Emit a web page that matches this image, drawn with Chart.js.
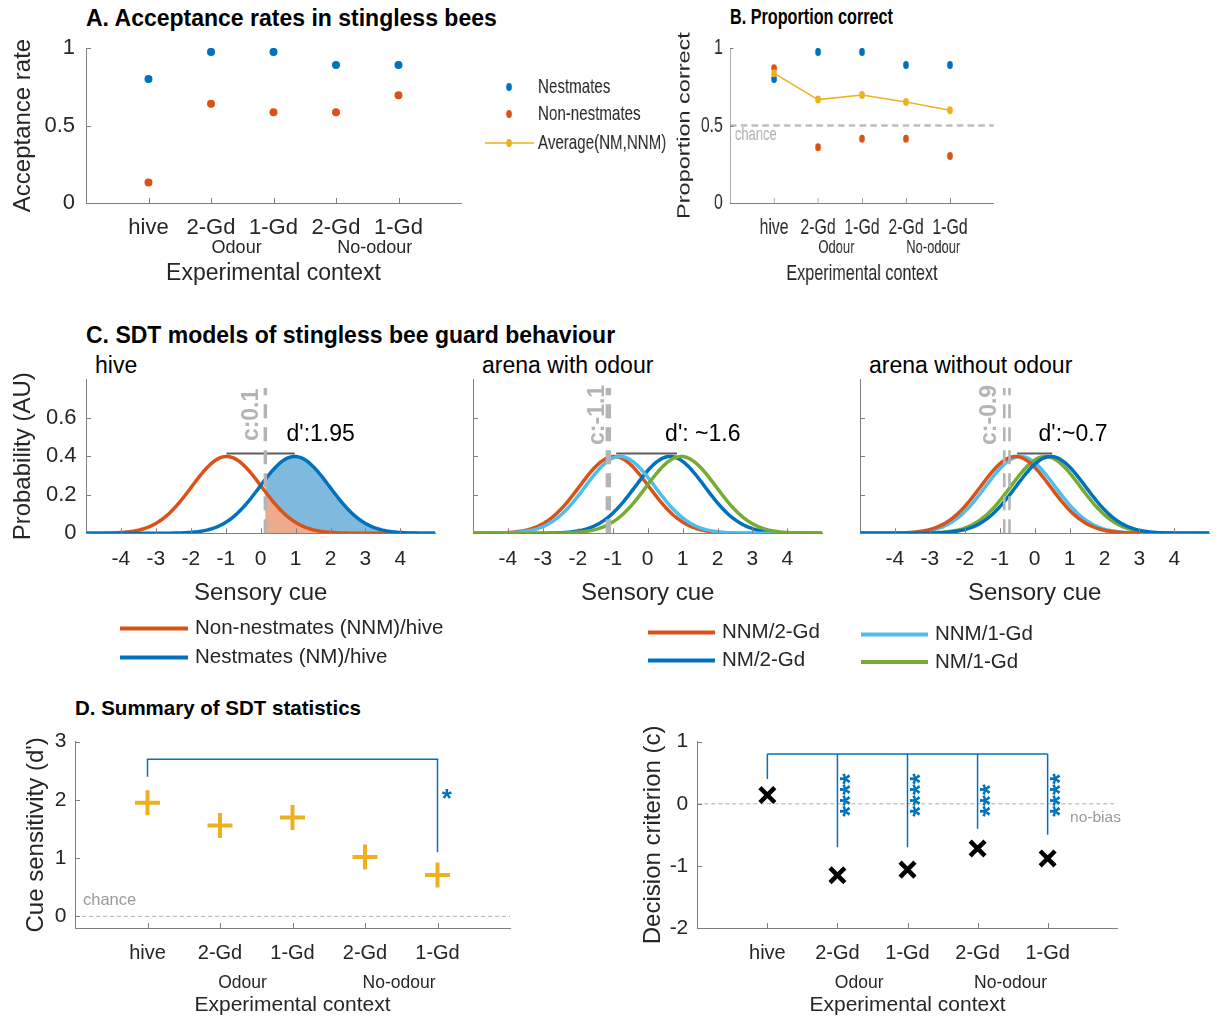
<!DOCTYPE html>
<html>
<head>
<meta charset="utf-8">
<script src="https://cdn.jsdelivr.net/npm/chart.js@4.4.1/dist/chart.umd.min.js"></script>
<style>
  body { margin: 0; background: #fff; width: 1221px; height: 1018px; position: relative; overflow: hidden;
         font-family: "Liberation Sans", Arial, sans-serif; color: #000; }
  .panel { position: absolute; transform-origin: 0 0; }
  .label { position: absolute; white-space: nowrap; line-height: 1; transform-origin: 0 0; }
</style>
</head>
<body>
<script>
// ---- data ----
const contexts = ['hive', '2-Gd', '1-Gd', '2-Gd', '1-Gd'];
const contextGroups = ['Odour', 'No-odour'];

// A. acceptance rates
const nestmateAccept = [0.80, 0.975, 0.975, 0.89, 0.89];
const nonNestmateAccept = [0.133, 0.64, 0.585, 0.585, 0.695];

// B. proportion correct
const nestmateCorrect = [0.80, 0.975, 0.975, 0.89, 0.89];
const nonNestmateCorrect = [0.869, 0.36, 0.415, 0.415, 0.303];
const averageCorrect = [0.837, 0.667, 0.696, 0.652, 0.598];

// C. SDT models: means of unit-variance normal curves, criteria, d' bars
const cueTicks = [-4, -3, -2, -1, 0, 1, 2, 3, 4];
const probTicks = [0, 0.2, 0.4, 0.6];
const hiveMeans = [-0.975, 0.975];                 // NNM, NM
const hiveCriteria = [0.135];
const odourMeans = [-0.96, 0.64, -0.79, 0.96];     // NNM/2-Gd, NM/2-Gd, NNM/1-Gd, NM/1-Gd
const odourCriteria = [-1.16, -1.09];
const noOdourMeans = [-0.55, 0.46, -0.41, 0.31];
const noOdourCriteria = [-0.87, -0.72];
const dBars = [[-0.975, 0.975], [-0.9, 0.84], [-0.5, 0.5]];
const dBarHeight = 0.415;
const criterionTop = 0.755;
const dLabels = ["d':1.95", "d': ~1.6", "d':~0.7"];
const cLabels = ['c:0.1', 'c:-1.1', 'c:-0.9'];

// D. summary statistics
const dPrime = [1.95, 1.56, 1.70, 1.02, 0.71];
const criterion = [0.14, -1.15, -1.06, -0.72, -0.88];
const dBracketTop = 2.7;
const dBracketEnds = [2.4, 1.1];                   // hive vs no-odour 1-Gd
const cBracketTop = 0.8;
const cBracketEnds = [0.4, -0.7, -0.7, -0.4, -0.5];
const cStars = ['', '****', '****', '***', '****'];

// ---- style ----
const FONT = '"Liberation Sans", Arial, sans-serif';
const TEXT = '#262626';
const AXIS = '#808080';
const BLUE = '#0072BD', ORANGE = '#D95319', YELLOW = '#EDB120', LIGHT = '#4DBEEE', GREEN = '#77AC30';
const GREY = '#b4b4b4';
Chart.defaults.font.family = FONT;
Chart.defaults.color = TEXT;

const pts = vals => vals.map((v, i) => ({x: i + 1, y: v}));
const seg = (x0, y0, x1, y1) => [{x: x0, y: y0}, {x: x1, y: y1}];
const cueGrid = Array.from({length: 201}, (_, i) => -5 + i * 0.05);
const pdf = (x, m) => Math.exp(-0.5 * (x - m) * (x - m)) / Math.sqrt(2 * Math.PI);
const curve = m => cueGrid.map(v => ({x: v, y: pdf(v, m)}));
const tail = (m, c) => [{x: c, y: pdf(c, m)}].concat(cueGrid.filter(v => v > c).map(v => ({x: v, y: pdf(v, m)})));

function addLabel(text, x, yc, size, bold, sx) {
  const d = document.createElement('div');
  d.className = 'label';
  d.textContent = text;
  d.style.left = x + 'px';
  d.style.top = (yc - size * 0.5) + 'px';
  d.style.fontSize = size + 'px';
  if (bold) d.style.fontWeight = 'bold';
  if (sx) d.style.transform = 'scaleX(' + sx + ')';
  document.body.appendChild(d);
}

// text notes, legend and MATLAB-like inward ticks
function notes(texts, legend, legendSize) {
  return {
    id: 'notes',
    afterDraw(chart) {
      const {ctx, chartArea: a, scales: {x, y}} = chart;
      ctx.save();
      ctx.strokeStyle = AXIS;
      ctx.lineWidth = 1;
      ctx.beginPath();
      x.ticks.forEach(t => {
        const px = Math.round(x.getPixelForValue(t.value)) + 0.5;
        ctx.moveTo(px, a.bottom); ctx.lineTo(px, a.bottom - 5);
      });
      y.ticks.forEach(t => {
        const py = Math.round(y.getPixelForValue(t.value)) + 0.5;
        ctx.moveTo(a.left, py); ctx.lineTo(a.left + 5, py);
      });
      ctx.stroke();

      texts.forEach(n => {
        ctx.save();
        ctx.font = (n.bold ? 'bold ' : '') + n.size + 'px ' + FONT;
        ctx.fillStyle = n.color || TEXT;
        ctx.textAlign = n.align || 'left';
        ctx.textBaseline = 'middle';
        const px = x.getPixelForValue(n.x);
        const py = n.below != null ? a.bottom + n.below : y.getPixelForValue(n.y);
        ctx.translate(px, py);
        if (n.rotate) ctx.rotate(n.rotate);
        ctx.fillText(n.text, 0, 0);
        ctx.restore();
      });

      legend.forEach(l => {
        const ds = chart.data.datasets[l.ds];
        if (l.x0 != null) {
          ctx.strokeStyle = ds.borderColor;
          ctx.lineWidth = l.lw || ds.borderWidth;
          ctx.beginPath(); ctx.moveTo(l.x0, l.y); ctx.lineTo(l.x1, l.y); ctx.stroke();
        }
        if (l.mx != null) {
          ctx.fillStyle = ds.pointBackgroundColor;
          ctx.beginPath(); ctx.arc(l.mx, l.y, 4, 0, Math.PI * 2); ctx.fill();
        }
        ctx.font = legendSize + 'px ' + FONT;
        ctx.fillStyle = TEXT;
        ctx.textAlign = 'left';
        ctx.textBaseline = 'middle';
        ctx.fillText(ds.label, l.tx, l.y);
      });
      ctx.restore();
    }
  };
}

function makePanel(p) {
  const sx = p.sx || 1;
  const wrap = document.createElement('div');
  wrap.className = 'panel';
  wrap.style.left = p.box.x + 'px';
  wrap.style.top = p.box.y + 'px';
  wrap.style.transform = 'scaleX(' + sx + ')';
  const canvas = document.createElement('canvas');
  const w = Math.round(p.box.w / sx), h = p.box.h;
  canvas.width = w; canvas.height = h;
  canvas.style.width = w + 'px'; canvas.style.height = h + 'px';
  wrap.appendChild(canvas);
  document.body.appendChild(wrap);

  const lx = v => (v - p.box.x) / sx;
  const ly = v => v - p.box.y;
  const leftW = lx(p.area.l);
  const rightPad = w - lx(p.area.r);
  const topPad = ly(p.area.t);
  const bottomH = h - ly(p.area.b);
  const X = p.x, Y = p.y;
  const legend = (p.legend || []).map(l => ({
    ds: l.ds, y: ly(l.y), tx: lx(l.tx), lw: l.lw,
    mx: l.mx != null ? lx(l.mx) : null,
    x0: l.x0 != null ? lx(l.x0) : null, x1: l.x1 != null ? lx(l.x1) : null
  }));

  return new Chart(canvas, {
    type: 'line',
    data: {datasets: p.datasets},
    options: {
      responsive: false,
      animation: false,
      devicePixelRatio: 1,
      layout: {padding: {left: 0, top: topPad, right: rightPad, bottom: 0}},
      plugins: {legend: {display: false}, tooltip: {enabled: false}},
      scales: {
        x: {
          type: 'linear', min: X.min, max: X.max,
          afterBuildTicks: s => { s.ticks = X.ticks.map(v => ({value: v})); },
          afterFit: s => { s.height = bottomH; s.paddingLeft = 0; s.paddingRight = 0; },
          grid: {display: false, drawTicks: false},
          border: {display: true, color: AXIS, width: 1},
          ticks: {
            autoSkip: false, maxRotation: 0, minRotation: 0, padding: X.pad,
            font: {size: X.font}, color: TEXT,
            callback: (v, i) => X.labels ? X.labels[i] : String(v)
          },
          title: {
            display: true, text: X.title, color: TEXT, font: {size: X.titleSize},
            padding: {top: 0, bottom: h - ly(X.titleY) - X.titleSize * 0.6}
          }
        },
        y: {
          type: 'linear', min: Y.min, max: Y.max,
          afterBuildTicks: s => { s.ticks = Y.ticks.map(v => ({value: v})); },
          afterFit: s => { s.width = leftW; s.paddingTop = 0; s.paddingBottom = 0; },
          grid: {display: false, drawTicks: false},
          border: {display: true, color: AXIS, width: 1},
          ticks: {
            padding: Y.pad, font: {size: Y.font}, color: TEXT,
            callback: v => Y.hide ? '' : String(v)
          },
          title: {
            display: !!Y.title, text: Y.title || '', color: TEXT, font: {size: Y.titleSize || 20},
            padding: {top: Y.title ? lx(Y.titleX) - Y.titleSize * 0.6 : 0, bottom: 0}
          }
        }
      }
    },
    plugins: [notes(p.texts || [], legend, p.legendSize || 20)]
  });
}

const dot = (label, data, color, order) => ({
  label, data, order, showLine: false, borderColor: color,
  pointRadius: 4, pointBackgroundColor: color, pointBorderWidth: 0
});
const rule = (data, color, width, dash, order) => ({
  data, order, borderColor: color, borderWidth: width, borderDash: dash || [], pointRadius: 0
});
const groupNotes = (xs, below, size) => contextGroups.map((t, i) => ({text: t, x: xs[i], below, size, align: 'center'}));

// ---- titles ----
addLabel('A. Acceptance rates in stingless bees', 86, 18, 23, true);
addLabel('B. Proportion correct', 730, 17, 22.5, true, 0.72);
addLabel('C. SDT models of stingless bee guard behaviour', 86, 335, 23, true);
addLabel('hive', 95, 365, 23);
addLabel('arena with odour', 482, 365, 23);
addLabel('arena without odour', 869, 365, 23);
addLabel('D. Summary of SDT statistics', 75, 708, 20.5, true);

// ---- A ----
makePanel({
  box: {x: 0, y: 0, w: 480, h: 288},
  area: {l: 86, t: 48, r: 461, b: 203},
  x: {min: 0, max: 6, ticks: [1, 2, 3, 4, 5], labels: contexts, font: 22, pad: 12,
      title: 'Experimental context', titleSize: 23, titleY: 274},
  y: {min: 0, max: 1, ticks: [0, 0.5, 1], font: 22, pad: 11,
      title: 'Acceptance rate', titleSize: 24, titleX: 23},
  datasets: [
    dot('Nestmates', pts(nestmateAccept), BLUE, 1),
    dot('Non-nestmates', pts(nonNestmateAccept), ORANGE, 2)
  ],
  texts: groupNotes([2.41, 4.62], 45, 18)
});

// ---- B (with legend of A and B) ----
makePanel({
  box: {x: 480, y: 0, w: 530, h: 288}, sx: 0.72,
  area: {l: 730, t: 48, r: 994, b: 203},
  x: {min: 0, max: 6, ticks: [1, 2, 3, 4, 5], labels: contexts, font: 22, pad: 12,
      title: 'Experimental context', titleSize: 22.5, titleY: 274},
  y: {min: 0, max: 1, ticks: [0, 0.5, 1], font: 22, pad: 10,
      title: 'Proportion correct', titleSize: 23.5, titleX: 685},
  datasets: [
    Object.assign(dot('Average(NM,NNM)', pts(averageCorrect), YELLOW, 0), {showLine: true, borderWidth: 1.5}),
    dot('Nestmates', pts(nestmateCorrect), BLUE, 2),
    dot('Non-nestmates', pts(nonNestmateCorrect), ORANGE, 1),
    rule(seg(0, 0.5, 6, 0.5), '#bdbdbd', 2.5, [9, 6], 5)
  ],
  texts: groupNotes([2.42, 4.62], 45, 18).concat([
    {text: 'chance', x: 0.11, y: 0.44, size: 18, color: '#b0b0b0'}
  ]),
  legend: [
    {ds: 1, mx: 509, tx: 538, y: 87},
    {ds: 2, mx: 509, tx: 538, y: 114},
    {ds: 0, x0: 485, x1: 534, mx: 509, tx: 538, y: 143}
  ],
  legendSize: 21
});

// ---- C ----
const cueAxis = {min: -5, max: 5, ticks: cueTicks, font: 21, pad: 13.4, title: 'Sensory cue', titleSize: 24, titleY: 593};
const cNote = (i, cx, dx) => [
  {text: dLabels[i], x: dx, y: 0.51, size: 23, color: '#000'},
  {text: cLabels[i], x: cx, y: 0.615, size: 23, bold: true, color: GREY, align: 'center', rotate: -Math.PI / 2}
];

makePanel({
  box: {x: 0, y: 370, w: 450, h: 320},
  area: {l: 86, t: 379.3, r: 435.3, b: 533.3},
  x: cueAxis,
  y: {min: 0, max: 0.8, ticks: probTicks, font: 22, pad: 9.5, title: 'Probability (AU)', titleSize: 24, titleX: 23.5},
  datasets: [
    rule(seg(hiveCriteria[0], 0, hiveCriteria[0], criterionTop), GREY, 3.5, [14, 9], 0),
    rule(seg(dBars[0][0], dBarHeight, dBars[0][1], dBarHeight), '#5f5f5f', 2, null, 1),
    {label: 'Non-nestmates (NNM)/hive', data: curve(hiveMeans[0]), order: 3, borderColor: ORANGE, borderWidth: 3.5, pointRadius: 0},
    {label: 'Nestmates (NM)/hive', data: curve(hiveMeans[1]), order: 2, borderColor: BLUE, borderWidth: 3.5, pointRadius: 0},
    {data: tail(hiveMeans[0], hiveCriteria[0]), order: 4, fill: 'origin', backgroundColor: '#eeaa8c', borderWidth: 0, pointRadius: 0},
    {data: tail(hiveMeans[1], hiveCriteria[0]), order: 5, fill: 'origin', backgroundColor: '#80b9de', borderWidth: 0, pointRadius: 0}
  ],
  texts: cNote(0, -0.25, 0.74),
  legend: [
    {ds: 2, x0: 120, x1: 188, tx: 195, y: 628.5, lw: 4},
    {ds: 3, x0: 120, x1: 188, tx: 195, y: 657.5, lw: 4}
  ],
  legendSize: 20.5
});

const arenaCurves = (means, orders) => [
  {label: 'NNM/2-Gd', data: curve(means[0]), order: orders[0], borderColor: ORANGE, borderWidth: 3.5, pointRadius: 0},
  {label: 'NM/2-Gd', data: curve(means[1]), order: orders[1], borderColor: BLUE, borderWidth: 3.5, pointRadius: 0},
  {label: 'NNM/1-Gd', data: curve(means[2]), order: orders[2], borderColor: LIGHT, borderWidth: 3.5, pointRadius: 0},
  {label: 'NM/1-Gd', data: curve(means[3]), order: orders[3], borderColor: GREEN, borderWidth: 3.5, pointRadius: 0}
];

makePanel({
  box: {x: 450, y: 370, w: 390, h: 320},
  area: {l: 473, t: 379.3, r: 822.3, b: 533.3},
  x: cueAxis,
  y: {min: 0, max: 0.8, ticks: probTicks, font: 22, pad: 9, hide: true},
  datasets: arenaCurves(odourMeans, [6, 5, 4, 3]).concat([
    rule(seg(odourCriteria[0], 0, odourCriteria[0], criterionTop), GREY, 3, [14, 9], 0),
    rule(seg(odourCriteria[1], 0, odourCriteria[1], criterionTop), GREY, 3, [14, 9], 0),
    rule(seg(dBars[1][0], dBarHeight, dBars[1][1], dBarHeight), '#5f5f5f', 2, null, 1)
  ]),
  texts: cNote(1, -1.42, 0.5),
  legend: [
    {ds: 0, x0: 648, x1: 715, tx: 722, y: 632.5, lw: 4},
    {ds: 1, x0: 648, x1: 715, tx: 722, y: 660.5, lw: 4}
  ],
  legendSize: 20.5
});

makePanel({
  box: {x: 840, y: 370, w: 381, h: 320},
  area: {l: 860, t: 379.3, r: 1209.3, b: 533.3},
  x: cueAxis,
  y: {min: 0, max: 0.8, ticks: probTicks, font: 22, pad: 9, hide: true},
  datasets: arenaCurves(noOdourMeans, [4, 3, 6, 5]).concat([
    rule(seg(noOdourCriteria[0], 0, noOdourCriteria[0], criterionTop), GREY, 2.6, [14, 9], 0),
    rule(seg(noOdourCriteria[1], 0, noOdourCriteria[1], criterionTop), GREY, 2.6, [14, 9], 0),
    rule(seg(dBars[2][0], dBarHeight, dBars[2][1], dBarHeight), '#5f5f5f', 2, null, 1)
  ]),
  texts: cNote(2, -1.3, 0.11),
  legend: [
    {ds: 2, x0: 861, x1: 928, tx: 935, y: 634.5, lw: 4},
    {ds: 3, x0: 861, x1: 928, tx: 935, y: 662, lw: 4}
  ],
  legendSize: 20.5
});

// ---- D ----
makePanel({
  box: {x: 0, y: 725, w: 600, h: 293},
  area: {l: 75, t: 741.7, r: 510, b: 928},
  x: {min: 0, max: 6, ticks: [1, 2, 3, 4, 5], labels: contexts, font: 20, pad: 13.3,
      title: 'Experimental context', titleSize: 21, titleY: 1005},
  y: {min: -0.2, max: 3, ticks: [0, 1, 2, 3], font: 21, pad: 8.5,
      title: "Cue sensitivity (d')", titleSize: 24, titleX: 36.7},
  datasets: [
    {label: "d'", data: pts(dPrime), order: 0, showLine: false, pointStyle: 'cross',
     pointRadius: 12.5, pointBorderWidth: 4, pointBorderColor: YELLOW, borderColor: YELLOW},
    rule([{x: 1, y: dBracketEnds[0]}, {x: 1, y: dBracketTop}, {x: 5, y: dBracketTop}, {x: 5, y: dBracketEnds[1]}], BLUE, 1.5, null, 1),
    rule(seg(0, 0, 6, 0), '#b0b0b0', 1, [4, 3], 2)
  ],
  texts: groupNotes([2.31, 4.47], 54.7, 17.5).concat([
    {text: 'chance', x: 0.11, y: 0.27, size: 16.5, color: '#9a9a9a'},
    {text: '*', x: 5.13, y: 2.01, size: 26, bold: true, color: BLUE, align: 'center'}
  ])
});

const cBrackets = [rule(seg(1, cBracketTop, 5, cBracketTop), BLUE, 1.5, null, 1)]
  .concat(cBracketEnds.map((e, i) => rule(seg(i + 1, cBracketTop, i + 1, e), BLUE, 1.5, null, 1)));
const starNotes = cStars.map((s, i) => ({text: s, x: i + 1.2, y: -0.21, size: 28, bold: true, color: BLUE, rotate: -Math.PI / 2}))
  .filter(n => n.text);

makePanel({
  box: {x: 600, y: 725, w: 621, h: 293},
  area: {l: 697.3, t: 741.7, r: 1117.7, b: 928},
  x: {min: 0, max: 6, ticks: [1, 2, 3, 4, 5], labels: contexts, font: 20, pad: 13.3,
      title: 'Experimental context', titleSize: 21, titleY: 1005},
  y: {min: -2, max: 1, ticks: [-2, -1, 0, 1], font: 21, pad: 9,
      title: 'Decision criterion (c)', titleSize: 24, titleX: 653.3},
  datasets: [
    {label: 'c', data: pts(criterion), order: 0, showLine: false, pointStyle: 'crossRot',
     pointRadius: 10.5, pointBorderWidth: 4.5, pointBorderColor: '#000', borderColor: '#000'},
    rule(seg(0, 0, 6, 0), '#b0b0b0', 1, [4, 3], 2)
  ].concat(cBrackets),
  texts: groupNotes([2.31, 4.47], 54.7, 17.5).concat(starNotes).concat([
    {text: 'no-bias', x: 5.32, y: -0.23, size: 15.5, color: '#9a9a9a'}
  ])
});
</script>
</body>
</html>
